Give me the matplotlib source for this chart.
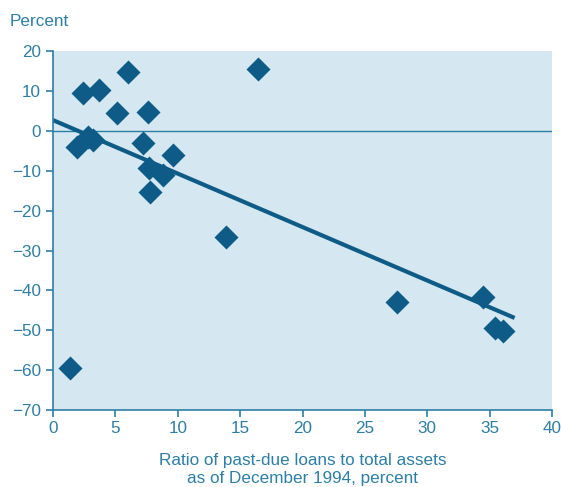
import numpy as np
import matplotlib
matplotlib.use("Agg")
import matplotlib.pyplot as plt

# past-due loan ratio (Dec 1994) vs. percent change
ratio = [2.4, 3.7, 6.0, 5.1, 7.6, 1.9, 2.8, 3.2, 7.2, 7.7, 8.8, 9.6, 7.8,
         1.4, 16.4, 13.9, 27.6, 34.5, 35.4, 36.1]
change = [9.4, 10.2, 14.8, 4.4, 4.8, -4.0, -1.5, -2.2, -3.0, -9.2, -11.1, -6.0, -15.3,
          -59.5, 15.4, -26.7, -42.8, -41.7, -49.5, -50.1]

# fitted line endpoints
fit_x = [0, 37]
fit_y = [2.7, -46.9]

xticks = [0, 5, 10, 15, 20, 25, 30, 35, 40]
yticks = [20, 10, 0, -10, -20, -30, -40, -50, -60, -70]

txt = "#2d7ea5"
mark = "#0d5b86"
bg = "#d5e8f1"

plt.rcParams['font.family'] = ['Liberation Sans', 'DejaVu Sans']
fs = 12.3

fig = plt.figure(figsize=(5.61, 4.87), dpi=100)
ax = fig.add_axes([0.0945, 0.158, 0.8895, 0.737])
ax.set_facecolor(bg)

ax.axhline(0, color=txt, lw=1.0, zorder=1)
ax.plot(fit_x, fit_y, color=mark, lw=3, solid_capstyle='butt', zorder=2)
ax.scatter(ratio, change, marker='D', s=150, color=mark, zorder=3, linewidths=0)

ax.set_xlim(0, 40)
ax.set_ylim(-70, 20)
ax.set_xticks(xticks)
ax.set_yticks(yticks)
ax.set_yticklabels([str(v).replace('-', '\u2212') for v in yticks])

for s in ['top', 'right']:
    ax.spines[s].set_visible(False)
for s in ['left', 'bottom']:
    ax.spines[s].set_color(txt)
    ax.spines[s].set_linewidth(1.2)
ax.tick_params(colors=txt, labelcolor=txt, labelsize=fs, length=5, width=1.2, direction='out')
ax.tick_params(axis='x', pad=3)

ax.set_xlabel("Ratio of past-due loans to total assets\nas of December 1994, percent",
              color=txt, fontsize=fs, labelpad=12, linespacing=1.25)
fig.text(10 / 561, 1 - 22 / 487, "Percent", color=txt, fontsize=fs, va='center', ha='left')

fig.savefig("out.png", dpi=100)
